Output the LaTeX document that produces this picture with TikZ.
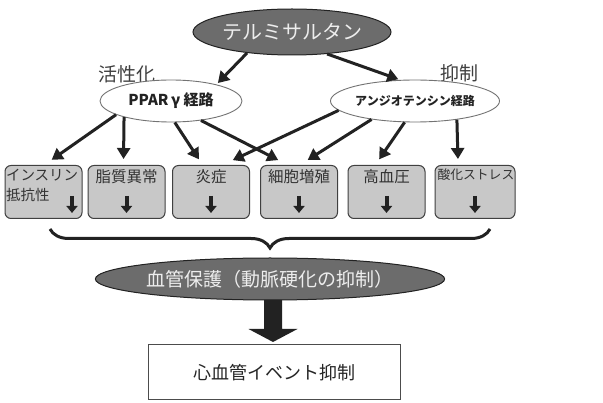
\documentclass[tikz,border=0pt]{standalone}
\usepackage{fontspec}
\setmainfont{Noto Sans CJK JP}
\usetikzlibrary{arrows.meta,shapes.geometric,decorations.pathreplacing,calc}
\definecolor{darkell}{HTML}{6C6C6C}
\definecolor{boxfill}{HTML}{C8C8C8}
\definecolor{ink}{HTML}{222222}
\definecolor{lighttext}{HTML}{EDEDED}
\tikzset{
  darkellipse/.style={ellipse, draw=ink, line width=1pt, fill=darkell, text=lighttext, inner sep=0pt},
  pathellipse/.style={ellipse, draw=black!55, line width=0.9pt, fill=white, inner sep=0pt, minimum width=142pt, minimum height=42pt, text=ink},
  graybox/.style={draw=black!75, line width=1pt, rounded corners=6pt, fill=boxfill, minimum width=77pt, minimum height=53pt, inner sep=0pt, text=black!80},
  conn/.style={draw=ink, line width=3pt, -{Triangle[length=11pt,width=13pt]}, shorten >=2pt},
  smallarr/.style={draw=ink, line width=4pt, -{Triangle[length=7pt,width=11pt]}},
  lbl/.style={text=black!75, font=\fontsize{19}{19}\selectfont, inner sep=0pt},
}
\newcommand{\boxtext}[2]{\parbox[c][46pt][t]{75pt}{\centering\fontsize{#1}{#1}\selectfont #2}}
\begin{document}
\begin{tikzpicture}[x=1pt,y=-1pt]
\useasboundingbox[fill=white] (0,0) rectangle (603,403);

% top
\node[darkellipse, minimum width=196pt, minimum height=46pt, font=\fontsize{20}{20}\selectfont] (tel) at (292,32) {テルミサルタン};
\node[lbl] (act) at (127,74) {活性化};
\node[lbl] (inh) at (459,73) {抑制};
\node[pathellipse, font=\bfseries\fontsize{15}{15}\selectfont] (ppar) at (171,101) {PPAR\,γ 経路};
\node[pathellipse, minimum width=146pt, font=\bfseries\fontsize{12}{12}\selectfont] (ang) at (415,101) {アンジオテンシン経路};

\draw[conn] (tel.205) -- (ppar.20);
\draw[conn] (tel.328) -- (ang.125);

% boxes
\node[graybox] (b1) at (43.5,192) {\parbox[c][46pt][t]{75pt}{\fontsize{14.5}{20}\selectfont インスリン\\抵抗性}};
\node[graybox] (b2) at (126.5,192) {\boxtext{15.5}{脂質異常}};
\node[graybox] (b3) at (211,192) {\boxtext{15.5}{炎症}};
\node[graybox] (b4) at (299,192) {\boxtext{15.5}{細胞増殖}};
\node[graybox] (b5) at (386.5,192) {\boxtext{15.5}{高血圧}};
\node[graybox, minimum width=80pt] (b6) at (475,192) {\boxtext{12.8}{酸化ストレス}};

\draw[smallarr] ([xshift=28.5pt,yshift=23pt]b1.south) -- ([xshift=28.5pt,yshift=6pt]b1.south);
\foreach \b in {b2,b3,b4,b5,b6}
  \draw[smallarr] ([yshift=23pt]\b.south) -- ([yshift=6pt]\b.south);

% connectors from pathways
\draw[conn] (ppar.194) -- ([xshift=6.5pt,yshift=4pt]b1.north);
\draw[conn] (ppar.199) -- ([xshift=-3pt,yshift=4pt]b2.north);
\draw[conn] (ppar.280) -- ([xshift=-11pt,yshift=4pt]b3.north);
\draw[conn] (ppar.327) -- ([xshift=-19pt,yshift=4pt]b4.north);
\draw[conn] (ang.187) -- ([xshift=20pt,yshift=4pt]b3.north);
\draw[conn] (ang.203) -- ([xshift=7pt,yshift=4pt]b4.north);
\draw[conn] (ang.244) -- ([xshift=-8.5pt,yshift=4pt]b5.north);
\draw[conn] (ang.336) -- ([xshift=-17pt,yshift=4pt]b6.north);

% brace
\coordinate (brL) at (50,229);
\coordinate (brR) at (490,229);
\draw[ink, line width=3pt, decorate, decoration={brace, mirror, amplitude=19pt}] (brL) -- (brR);

% bottom
\node[darkellipse, minimum width=326pt, minimum height=42pt, font=\fontsize{19}{19}\selectfont] (vp) at (270,279) {血管保護（動脈硬化の抑制）};
\node[draw=black!70, line width=1pt, fill=white, minimum width=252pt, minimum height=55pt, inner sep=0pt, text=black!85, font=\fontsize{18}{18}\selectfont] (evt) at (274,372.5) {心血管イベント抑制};
\coordinate (arrtop) at (273,300);
\fill[ink] (arrtop) ++(-9,0) -- ++(18,0) -- ++(0,29) -- ++(15.5,0) -- ++(-24.5,13) -- ++(-24.5,-13) -- ++(15.5,0) -- cycle;
\end{tikzpicture}
\end{document}
